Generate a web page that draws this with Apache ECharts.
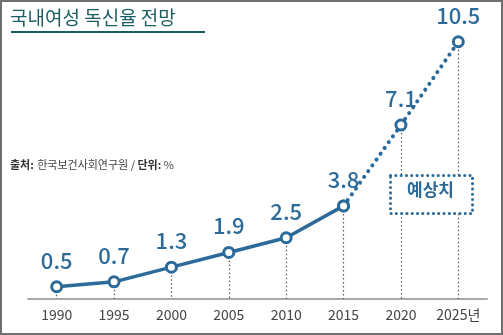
<!DOCTYPE html>
<html><head><meta charset="utf-8">
<script src="https://cdn.jsdelivr.net/npm/echarts@6/dist/echarts.min.js"></script>
<style>
html,body{margin:0;padding:0;background:#fff;}
#wrap{position:relative;width:503px;height:335px;box-sizing:border-box;border:2px solid #6f6f6f;}
#c{position:absolute;left:-2px;top:-2px;width:503px;height:335px;}
</style></head>
<body><div id="wrap"><div id="c"></div></div>
<script>
const categories = ['1990','1995','2000','2005','2010','2015','2020','2025년'];
const actual = [0.5, 0.7, 1.3, 1.9, 2.5, 3.8, null, null];
const forecast = [null, null, null, null, null, 3.8, 7.1, 10.5];
const allValues = [0.5, 0.7, 1.3, 1.9, 2.5, 3.8, 7.1, 10.5];
const titleText = '국내여성 독신율 전망';
const boxText = '예상치';

const blue = '#2c6a99';
const font = '"Noto Sans CJK KR","Noto Sans",sans-serif';
const chart = echarts.init(document.getElementById('c'));
const drops = allValues.map((v,i)=>[{coord:[i,v]},{coord:[i,0]}]);
chart.setOption({
  animation:false,
  grid:{left:28,top:5,width:459,height:294},
  xAxis:{type:'category',data:categories,boundaryGap:true,
    axisLine:{lineStyle:{color:'#a9a9a9',width:2}},axisTick:{show:false},
    axisLabel:{color:'#444',fontSize:14,fontFamily:font,margin:9}},
  yAxis:{type:'value',min:0,max:12,show:false,splitLine:{show:false}},
  graphic:[
    {type:'text',left:10,top:8,style:{text:titleText,fill:'#1c5f63',font:'normal 19px '+font}},
    {type:'rect',left:11,top:31,shape:{width:194,height:2},style:{fill:'#1c5f63'}},
    {type:'text',left:10,top:159,style:{rich:{b:{fontWeight:'bold',fill:'#333',fontSize:11,fontFamily:font},n:{fill:'#444',fontSize:11,fontFamily:font}},
      text:'{b|출처:} {n|한국보건사회연구원 / }{b|단위:}{n| %}'}},
    {type:'rect',left:389,top:174,z:10,shape:{width:82,height:38},style:{fill:'#fff',stroke:blue,lineWidth:3,lineDash:[0.1,5.2],lineCap:'round'}},
    {type:'text',left:407,top:181,z:11,style:{text:boxText,fill:blue,font:'bold 17px '+font}}
  ],
  series:[
    {type:'line',data:actual,symbol:'circle',symbolSize:10,z:5,
      lineStyle:{color:blue,width:3.5},
      itemStyle:{color:'#fff',borderColor:blue,borderWidth:3},
      label:{show:true,position:'top',distance:9,color:blue,fontSize:22,fontFamily:font,fontWeight:500},
      markLine:{silent:true,symbol:'none',label:{show:false},z:1,
        lineStyle:{color:'#555',type:[1.5,2.5],width:1.2},data:drops}},
    {type:'line',data:forecast,symbol:'circle',symbolSize:10,z:5,
      lineStyle:{color:blue,width:4,type:[0.1,7],cap:'round'},
      itemStyle:{color:'#fff',borderColor:blue,borderWidth:3},
      label:{show:true,position:'top',distance:9,color:blue,fontSize:22,fontFamily:font,fontWeight:500,
        formatter:p=>p.dataIndex===5?'':p.value}}
  ]
});
</script></body></html>
